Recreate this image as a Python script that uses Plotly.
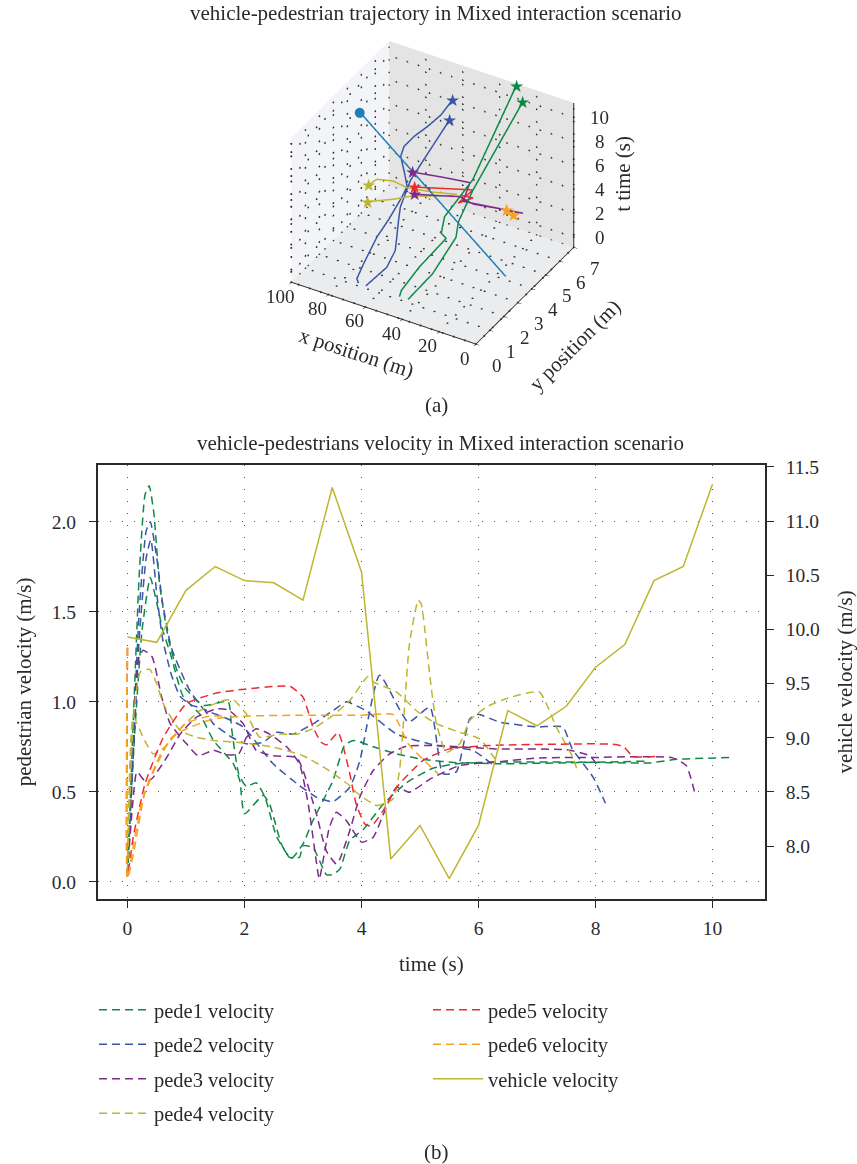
import numpy as np
import plotly.graph_objects as go

FONT = "Liberation Serif"
INK = "#2b2a2a"
GREEN, BLUE, PURPLE, YELLOW, RED, ORANGE, VEH3D = "#0f8a46", "#3a55a5", "#7d2b8b", "#bdb62f", "#ee2a2e", "#f8a11c", "#1f7fb8"

# ---------- velocity data ----------
veh_t = [0,.5,1,1.5,2,2.5,3,3.5,4,4.5,5,5.5,6,6.5,7,7.5,8,8.5,9,9.5,10]
veh_v = [9.93,9.88,10.36,10.58,10.45,10.43,10.27,11.31,10.53,7.88,8.19,7.7,8.19,9.25,9.11,9.29,9.65,9.86,10.45,10.58,11.34]

g1_t = [0,.1,.2,.3,.37,.45,.55,.7,.85,1,1.3,1.72,1.78,1.9,2.03,2.2,2.35,2.55,2.8,3,3.17,3.51,3.71,3.86,4.2,4.6,5.05,5.68,6.3,7.6,8.9,9.4,10.3]
g1_v = [.03,.9,1.7,2.15,2.2,2.05,1.65,1.35,1.17,1.07,.98,1.0,.85,.6,.53,.55,.47,.25,.13,.21,.34,.56,.757,.785,.75,.71,.68,.66,.665,.665,.66,.68,.69]
g2_t = [0,.1,.25,.39,.5,.6,.73,.95,1.24,1.47,1.81,1.92,2,2.32,2.43,2.63,2.77,2.94,3,3.17,3.4,3.51,3.63,3.8,4.03,4.37,4.77,5.22,5.74,6.3,8.9]
g2_v = [.03,.7,1.4,1.69,1.55,1.4,1.27,1.03,.93,.785,.655,.56,.377,.48,.43,.21,.135,.135,.2,.19,.04,.04,.07,.23,.29,.43,.55,.63,.66,.655,.67]
b1_t = [0,.1,.2,.32,.39,.5,.6,.75,.95,1.07,1.3,1.64,1.98,2.49,2.94,3.23,3.51,3.8,3.97,4.31,4.8,5.17,5.39,5.62,5.85,5.99,6.36,6.99,7.44,7.6,7.96,8.17]
b1_v = [.05,.8,1.5,1.95,2.0,1.8,1.55,1.3,1.14,1.06,.96,.915,.86,.655,.534,.47,.445,.525,.67,1.147,.887,.97,.6,.61,.905,.93,.887,.86,.86,.74,.58,.436]
b2_t = [0,.1,.2,.32,.4,.5,.6,.75,.9,1.1,1.3,1.47,1.8,2.03,2.32,2.55,2.83,3.17,3.51,3.74,3.8,4.08,4.6,5.28,5.9,6.3]
b2_v = [.05,.7,1.35,1.8,1.9,1.6,1.35,1.15,1.03,.98,.96,.877,.8,.766,.775,.83,.82,.877,.95,1.0,.994,.95,.82,.757,.73,.636]
p1_t = [0,.08,.2,.27,.42,.585,.73,1.01,1.21,1.47,1.7,1.9,2.03,2.2,2.43,2.72,2.94,3.09,3.26,3.28,3.45,3.57,3.74,4,4.2,4.4,4.6,4.82,5.17,5.68,6.3,7.04,8,8.64,9.32,9.55,9.7]
p1_v = [.05,.8,1.25,1.286,1.25,1.026,.878,.766,.7,.73,.705,.71,.8,.85,.82,.75,.655,.43,.04,.015,.3,.386,.34,.22,.247,.395,.525,.497,.57,.646,.665,.688,.69,.695,.688,.646,.49]
p2_t = [0,.08,.16,.3,.41,.67,.9,1.18,1.52,1.72,1.98,2.2,2.49,2.89,3,3.23,3.4,3.57,3.63,3.8,3.97,4.2,4.48,4.77,5.28,6.3,7.5,7.9,8.07]
p2_v = [.05,.4,.61,.56,.57,.69,.82,.915,.96,.955,.877,.73,.7,.69,.62,.376,.17,.098,.126,.284,.47,.618,.71,.753,.757,.738,.733,.7,.627]
y1_t = [0,.1,.22,.38,.5,.61,.9,1.18,1.47,2.03,2.49,3,3.4,3.8,3.91,4.26,4.54,4.65,4.82,4.97,5.02,5.17,5.28,5.45,5.68,5.85,6.13,6.47,7.04,7.33,7.61,7.7]
y1_v = [.05,.9,1.165,1.18,1.1,.99,.84,.803,.785,.77,.748,.7,.627,.534,.497,.423,.46,.618,1.323,1.564,1.545,1.137,.878,.72,.766,.896,.97,1.017,1.054,.859,.692,.608]
y2_t = [0,.1,.27,.44,.64,.9,1.24,1.64,1.81,2.03,2.26,2.6,2.9,3.17,3.51,3.8,4.11,4.2,4.6,4.94,5.28,5.68,6.02,6.28]
y2_v = [.05,.915,.8,.71,.748,.85,.95,1.007,1.01,.933,.803,.82,.82,.85,.924,1.007,1.14,1.11,1.054,.95,.878,.83,.794,.683]
r1_t = [0,0,.1,.3,.61,1.01,1.52,2,2.49,2.78,3,3.17,3.31,3.4,3.6,3.69,3.8,3.91,4.06,4.17,4.37,4.6,5.05,5.5,6.19,8,8.35,8.49,8.64,9.03]
r1_v = [1.3,.03,.25,.544,.8,.99,1.048,1.07,1.085,1.085,1.026,.86,.775,.76,.83,.748,.6,.43,.32,.31,.395,.525,.673,.738,.757,.766,.762,.748,.696,.696]
o1_t = [0,0,.1,.25,.5,.75,1.01,1.3,1.47,2,3,4,4.54,4.8,5.05,5.31]
o1_v = [1.3,.02,.2,.45,.65,.8,.85,.887,.905,.92,.925,.925,.928,.766,.68,.6]
o2_t = [0,0,.1,.3,.6,1,1.4,1.7]
o2_v = [1.3,.02,.15,.5,.73,.88,.92,.92]

# ---------- trajectories: x, y, t ----------
tg_a = ([41.5,34.7,32.8,33.2,33,27.5],[.63,1.48,2.91,3.13,4.14,7],[0,1.5,3,4,5.5,9.88])
tg_b = ([46.1,46.4,40.4,33.9,36.5,38.5,32.4,31.2],[.62,.79,1.29,2.35,2.34,2.84,4.05,7],[0,.3,2,3.5,3.8,4.5,6.5,11])
tb_a = ([68.2,69.7,69.2,67.4,64.8,63.3,63.5,67.2,72.6,73.4,71.4,68.1,65.4,65],[.61,.69,1.11,1.83,2.31,2.95,3.47,3.77,4.21,4.56,5.02,5.53,6.13,6.93],[0,.2,1,2.5,3.5,4.5,5,5.6,6.2,6.6,7,7.4,7.8,8.2])
tb_b = ([64.1,59.3,59.3,59.8,63,64.3,66.2,66.2,67.2],[.6,1.46,2.06,2.24,2.79,3.09,4.07,5.28,6.98],[0,.8,1.5,2.4,3,3.7,4.7,5.5,6.3])
tp_a = ([25.6,42.9,41.8,43.2,42.9],[6.75,4.75,5.1,3.34,1.11],[.95,3.36,4.57,6.98,10])
tp_b = ([27.1,32.8,40.7,40.3,39.9,38.7],[6.7,6.03,5.17,4.16,2.67,.75],[.95,1.79,2.76,4.57,6.38,8.79])
ty_a = ([51.2,54.5,58.8,59.9,62.6,61.1],[5.4,4.15,2.83,2.0,1.17,.42],[2.76,4.21,5.9,7.35,8.31,8.79])
ty_b = ([52.1,57.5,57.2,60.8],[5.26,2.89,1.64,.25],[2.76,5.17,6.38,7.59])
tr_a = ([52.4,43.2,45.9,37.6,37.9,38.3],[5.8,5.5,4.8,4.76,2.76,.65],[2.16,2.76,3,4.57,6.98,9.52])
to_a = ([23.8,10.9],[5.33,3.65],[3.36,5.54])
to_b = ([35,27.6],[7,6.35],[.345,1.19])
veh_xyt = ([11.4,89.2],[3.64,3.43],[0,10])

x_ticks = [0,20,40,60,80,100]
y_ticks = [0,1,2,3,4,5,6,7]
t_ticks = [0,2,4,6,8,10]
X_RANGE = [100,0]
Y_RANGE = [0,7]
T_RANGE = [-.86,11.2]

fig = go.Figure()

# ---------- 3D grid as dots on the panes ----------
def dots(a, b, step):
    return list(np.arange(a, b + 1e-9, step))
zmin, zmax = T_RANGE
gx, gy, gz = [], [], []
for xv in x_ticks:
    for yv in dots(0, 7, .6): gx.append(xv); gy.append(yv); gz.append(zmin)
    for zv in dots(zmin, zmax, 1.05): gx.append(xv); gy.append(7); gz.append(zv)
for yv in y_ticks:
    for xv in dots(0, 100, 6): gx.append(xv); gy.append(yv); gz.append(zmin)
    for zv in dots(zmin, zmax, 1.05): gx.append(100); gy.append(yv); gz.append(zv)
for zv in t_ticks:
    for xv in dots(0, 100, 6): gx.append(xv); gy.append(7); gz.append(zv)
    for yv in dots(0, 7, .6): gx.append(100); gy.append(yv); gz.append(zv)
fig.add_trace(go.Scatter3d(x=gx, y=gy, z=gz, mode="markers", marker=dict(size=1.2, color="#333333", line=dict(width=0)),
                           showlegend=False, hoverinfo="skip", scene="scene"))

# z axis drawn at the right-hand rear edge, with its tick marks
zx, zy, zz = [0,0], [7,7], [zmin,zmax]
for zv in t_ticks:
    zx += [None,0,0]; zy += [None,7,7.35]; zz += [None,zv,zv]
fig.add_trace(go.Scatter3d(x=zx, y=zy, z=zz, mode="lines", line=dict(color=INK, width=2),
                           showlegend=False, hoverinfo="skip", scene="scene"))

paths = [(tg_a,GREEN),(tg_b,GREEN),(tb_a,BLUE),(tb_b,BLUE),(tp_a,PURPLE),(tp_b,PURPLE),
         (ty_a,YELLOW),(ty_b,YELLOW),(tr_a,RED),(to_a,ORANGE),(to_b,ORANGE),(veh_xyt,VEH3D)]
annos3d = []
for (px3, py3, pt3), c in paths:
    fig.add_trace(go.Scatter3d(x=px3, y=py3, z=pt3, mode="lines", line=dict(color=c, width=3),
                               showlegend=False, hoverinfo="skip", scene="scene"))
    annos3d.append(dict(x=px3[-1], y=py3[-1], z=pt3[-1], text="●" if c == VEH3D else "★", showarrow=False,
                        font=dict(family="DejaVu Sans", size=13 if c == VEH3D else 17, color=c)))

TICK3 = dict(family=FONT, size=19, color=INK)
for v in x_ticks:
    annos3d.append(dict(x=v,y=0,z=zmin,text=str(v),showarrow=False,font=TICK3,xshift=-11,yshift=-14))
for v in y_ticks:
    annos3d.append(dict(x=0,y=v,z=zmin,text=str(v),showarrow=False,font=TICK3,xshift=21,yshift=-21))
for v in t_ticks:
    annos3d.append(dict(x=0,y=7,z=v,text=str(v),showarrow=False,font=TICK3,xshift=26,yshift=0))
TITLE3 = dict(family=FONT, size=21, color=INK)
annos3d.append(dict(x=50,y=0,z=zmin,text="x position (m)",textangle=18,showarrow=False,font=TITLE3,xshift=-27,yshift=-40))
annos3d.append(dict(x=0,y=3.5,z=zmin,text="y position (m)",textangle=-45,showarrow=False,font=TITLE3,xshift=50,yshift=-49))
annos3d.append(dict(x=0,y=7,z=5,text="t time (s)",textangle=-90,showarrow=False,font=TITLE3,xshift=49,yshift=3))

# ---------- velocity traces ----------
curves = [("pede1 velocity",GREEN,[(g1_t,g1_v),(g2_t,g2_v)],"legend"),
          ("pede2 velocity",BLUE,[(b1_t,b1_v),(b2_t,b2_v)],"legend"),
          ("pede3 velocity",PURPLE,[(p1_t,p1_v),(p2_t,p2_v)],"legend"),
          ("pede4 velocity",YELLOW,[(y1_t,y1_v),(y2_t,y2_v)],"legend"),
          ("pede5 velocity",RED,[(r1_t,r1_v)],"legend2"),
          ("pede6 velocity",ORANGE,[(o1_t,o1_v),(o2_t,o2_v)],"legend2")]
for name,c,series,lg in curves:
    for i,(tt,vv) in enumerate(series):
        fig.add_trace(go.Scatter(x=tt,y=vv,mode="lines",name=name,legend=lg,legendgroup=name,showlegend=i==0,
                                 line=dict(color=c,width=1.5,dash="8px,5px",shape="spline",smoothing=.5),xaxis="x",yaxis="y",hoverinfo="skip"))
fig.add_trace(go.Scatter(x=veh_t,y=veh_v,mode="lines",name="vehicle velocity",legend="legend2",legendgroup="veh",
                         line=dict(color=YELLOW,width=1.5),xaxis="x",yaxis="y2",hoverinfo="skip"))

W,H = 857,1164
def px(v): return v/W
def py(v): return 1-v/H
tick = dict(family=FONT,size=19.5,color=INK)
ttl = dict(family=FONT,size=21,color=INK)
leg = dict(font=dict(family=FONT,size=20.5,color=INK),bgcolor="rgba(0,0,0,0)",itemwidth=50,tracegroupgap=4.8,
           yanchor="top",xanchor="left",traceorder="grouped",itemclick=False,itemdoubleclick=False)
ax3 = dict(showgrid=False,zeroline=False,showline=True,linecolor=INK,linewidth=2,ticks="outside",ticklen=4,tickcolor=INK,
           showticklabels=False,title=dict(text=""),showspikes=False,showbackground=True)
txt = lambda s,x,y,size=21,rot=0: dict(text=s,x=px(x),y=py(y),xref="paper",yref="paper",showarrow=False,textangle=rot,
                                       xanchor="center",yanchor="middle",font=dict(family=FONT,size=size,color=INK))
axis2d = dict(ticks="outside",ticklen=7,tickcolor=INK,tickwidth=1.2,showline=True,linecolor=INK,linewidth=1.5,zeroline=False,
              tickfont=tick,ticklabelstandoff=9)
grid2d = dict(showgrid=True,griddash="1px,11px",gridcolor="#555",gridwidth=1)
fig.update_layout(
    template="none",
    width=W,height=H,margin=dict(l=0,r=0,t=0,b=0),paper_bgcolor="white",plot_bgcolor="white",
    scene=dict(domain=dict(x=[px(8),1],y=[py(385),1]),
               aspectmode="manual",aspectratio=dict(x=1.11,y=1.01,z=.918),
               camera=dict(eye=dict(x=.8,y=-1.374,z=1.12),up=dict(x=0,y=0,z=1),center=dict(x=0,y=0,z=0),projection=dict(type="orthographic")),
               xaxis=dict(ax3,range=X_RANGE,tickvals=x_ticks,backgroundcolor="#f3f4f7"),
               yaxis=dict(ax3,range=Y_RANGE,tickvals=y_ticks,backgroundcolor="#e4e4e4"),
               zaxis=dict(showgrid=False,zeroline=False,showline=False,ticks="",showticklabels=False,title=dict(text=""),showspikes=False,
                          range=T_RANGE,backgroundcolor="#ebecee",showbackground=True),
               annotations=annos3d),
    xaxis=dict(axis2d,**grid2d,domain=[px(97.7),px(765)],range=[-.509,10.897],tickvals=[0,2,4,6,8,10],mirror=True,ticklabelstandoff=4,
               anchor="y",title=dict(text="time (s)",font=ttl,standoff=18)),
    yaxis=dict(axis2d,**grid2d,domain=[py(899),py(464.7)],range=[-.096,2.317],tickvals=[0,.5,1,1.5,2],tickformat=".1f",
               title=dict(text="pedestrian velocity (m/s)",font=ttl,standoff=14)),
    yaxis2=dict(axis2d,overlaying="y",side="right",range=[7.511,11.52],tickvals=[8,8.5,9,9.5,10,10.5,11,11.5],tickformat=".1f",ticklabelstandoff=8,
                showgrid=False,anchor="x",title=dict(text="vehicle velocity (m/s)",font=ttl,standoff=19)),
    legend=dict(leg,x=px(94),y=py(990)),
    legend2=dict(leg,x=px(428),y=py(990)),
    annotations=[txt("vehicle-pedestrian trajectory in Mixed interaction scenario",436,13),
                 txt("vehicle-pedestrians velocity in Mixed interaction scenario",440,443),
                 txt("(a)",436,405),txt("(b)",436,1152)],
)
fig.write_html("out.html", post_script="document.body.style.margin='0';", config=dict(displayModeBar=False))
